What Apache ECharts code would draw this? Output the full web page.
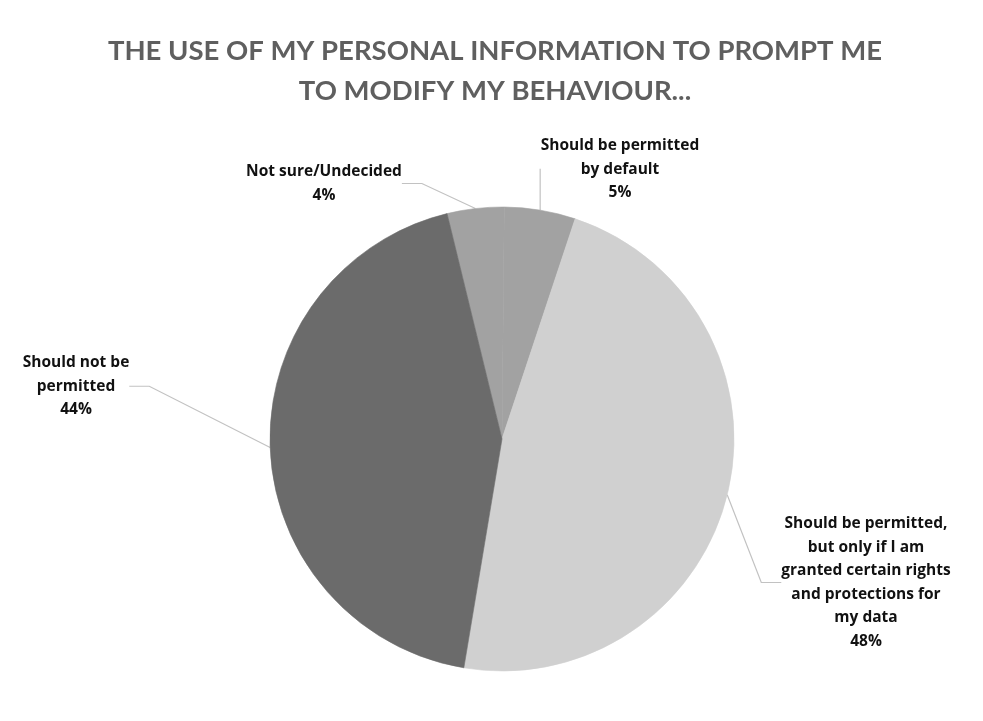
<!DOCTYPE html>
<html>
<head>
<meta charset="utf-8">
<script src="https://cdn.jsdelivr.net/npm/echarts@6/dist/echarts.min.js"></script>
<style>
  html, body { margin: 0; padding: 0; background: #ffffff; }
  #chart { width: 983px; height: 721px; }
</style>
</head>
<body>
<div id="chart"></div>
<script>
// Survey responses, clockwise from the top of the pie
const categories = [
  'Not sure/Undecided',
  'Should be permitted\nby default',
  'Should be permitted,\nbut only if I am\ngranted certain rights\nand protections for\nmy data',
  'Should not be\npermitted'
];
const percentages = [4, 5, 48, 44];
const sliceColors = ['#a2a2a2', '#a2a2a2', '#d0d0d0', '#6b6b6b'];

// Where each label block sits (centre x, top y)
const labelSpots = [
  { x: 324, y: 160 },
  { x: 620, y: 134 },
  { x: 866, y: 512 },
  { x: 76, y: 351 }
];

const chart = echarts.init(document.getElementById('chart'));

chart.setOption({
  backgroundColor: '#ffffff',
  title: {
    text: 'THE USE OF MY PERSONAL INFORMATION TO PROMPT ME\nTO MODIFY MY BEHAVIOUR...',
    left: 490,
    top: 26,
    textAlign: 'center',
    textStyle: {
      fontFamily: 'Lato',
      fontWeight: 'bold',
      fontSize: 27.5,
      lineHeight: 40,
      color: '#5f5f5f'
    }
  },
  series: [{
    type: 'pie',
    center: [502, 439],
    radius: 232,
    startAngle: 103.7,
    clockwise: true,
    silent: true,
    data: categories.map((name, i) => ({
      name: name,
      value: percentages[i],
      // edge painted in the fill colour so neighbouring slices meet without a seam
      itemStyle: { color: sliceColors[i], borderColor: sliceColors[i], borderWidth: 0.6 }
    })),
    label: {
      show: true,
      formatter: p => p.name + '\n' + p.value + '%',
      fontFamily: 'Open Sans',
      fontWeight: 'bold',
      fontSize: 15.5,
      lineHeight: 23.5,
      color: '#111111',
      align: 'center'
    },
    labelLine: {
      show: true,
      length: 20,
      length2: 20,
      lineStyle: { color: '#c2c2c2', width: 1.2 }
    },
    labelLayout: function (params) {
      const spot = labelSpots[params.dataIndex];
      return {
        x: spot.x,
        y: spot.y,
        verticalAlign: 'top',
        align: 'center'
      };
    }
  }]
});
</script>
</body>
</html>
